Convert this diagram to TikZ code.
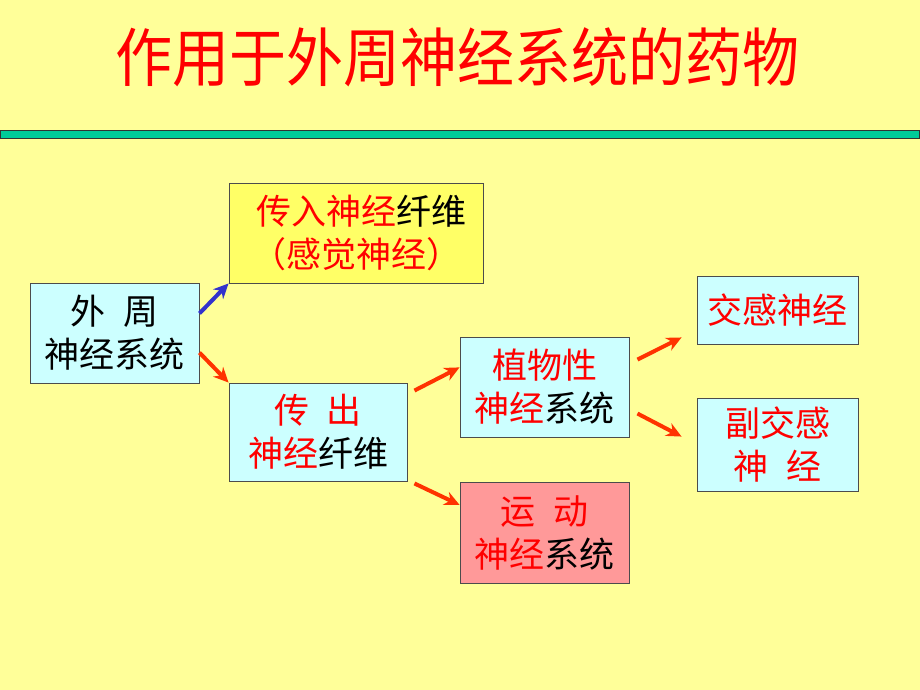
\documentclass[tikz,border=0pt]{standalone}
\usepackage{fontspec}
\setmainfont{Noto Sans CJK SC}
\usetikzlibrary{arrows.meta,calc,shadows}
\definecolor{bgyellow}{HTML}{FFFF99}
\definecolor{boxcyan}{HTML}{CCFFFF}
\definecolor{boxyellow}{HTML}{FFFF66}
\definecolor{boxpink}{HTML}{FF9999}
\definecolor{bargreen}{HTML}{00CC99}
\definecolor{textred}{HTML}{FF0000}
\definecolor{arrowred}{HTML}{FF3300}
\definecolor{arrowblue}{HTML}{3333CC}
\newcommand{\rd}[1]{\textcolor{textred}{#1}}
\newcommand{\gap}{\hspace{0.5em}}

\begin{document}
\begin{tikzpicture}[x=1pt, y=-1pt,
  box/.style={draw=black!70, line width=0.9pt, inner sep=0pt, align=center,
    text=black, font=\fontsize{35}{43}\selectfont,
    drop shadow={shadow xshift=1.3pt, shadow yshift=-1.3pt, fill=black!50, opacity=1}},
  link/.style={line width=4pt, draw=arrowred, -{Stealth[length=15pt, width=14pt]}}]
  \fill[bgyellow] (0, 0) rectangle (920, 690);
  \useasboundingbox (0, 0) rectangle (920, 690);
  \node[text=textred, font=\fontsize{57}{62}\selectfont] (title) at (457, 57)
    {\scalebox{1}[1.12]{作用于外周神经系统的药物}};
  \draw[black!80, fill=bargreen, line width=1pt] (0, 130) rectangle (919, 138);

  \node[box, fill=boxcyan, minimum width=169pt, minimum height=100pt] (wai) at (114.5, 333)
    {外\gap 周\\神经系统};
  \node[box, fill=boxyellow, minimum width=254pt, minimum height=100pt] (chuanru) at (356, 233)
    {\hspace{0.3em}\rd{传入神经}纤维\\\rd{（感觉神经）}};
  \node[box, fill=boxcyan, minimum width=178pt, minimum height=98pt] (chuanchu) at (318, 432)
    {\rd{传\gap 出}\\\rd{神经}纤维};
  \node[box, fill=boxcyan, minimum width=169pt, minimum height=100pt] (zhiwu) at (544.5, 387)
    {\rd{植物性}\\\rd{神经}系统};
  \node[box, fill=boxpink, minimum width=169pt, minimum height=101pt] (yundong) at (544.5, 532.5)
    {\rd{运\gap 动}\\\rd{神经}系统};
  \node[box, fill=boxcyan, text=textred, minimum width=161pt, minimum height=68pt] (jiaogan) at (777.5, 310)
    {交感神经};
  \node[box, fill=boxcyan, text=textred, minimum width=161pt, minimum height=93pt] (fujiaogan) at (777.5, 444.5)
    {副交感\\神\gap 经};

  \draw[link, draw=arrowblue] (wai.13) -- (chuanru.south west);
  \draw[link] (wai.-13) -- (chuanchu.north west);
  \draw[link] ($(chuanchu.north east)+(7, 8)$) -- (zhiwu.167);
  \draw[link] ($(chuanchu.south east)+(7, 2)$) -- (yundong.162);
  \draw[link] ($(zhiwu.north east)+(8, 23)$) -- ($(jiaogan.south west)+(-15, -7)$);
  \draw[link] ($(zhiwu.north east)+(8, 77)$) -- ($(fujiaogan.north west)+(-15, 39)$);
\end{tikzpicture}
\end{document}
